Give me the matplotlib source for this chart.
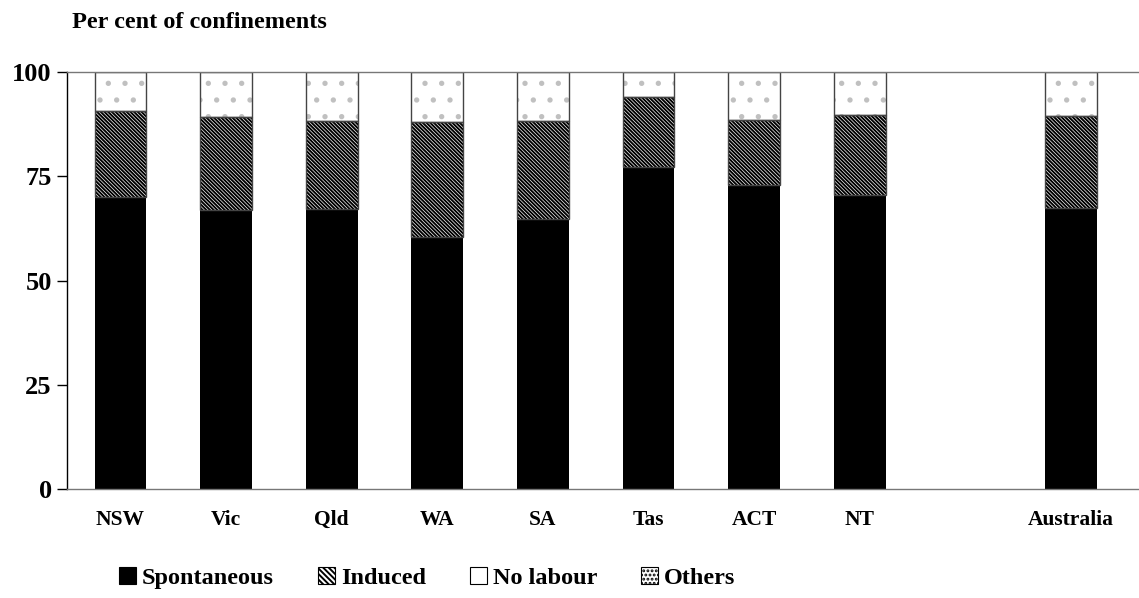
import matplotlib
matplotlib.use("Agg")
import matplotlib.pyplot as plt
from matplotlib.patches import Patch
import numpy as np

categories = ["NSW", "Vic", "Qld", "WA", "SA", "Tas", "ACT", "NT", "Australia"]
positions = [0, 1, 2, 3, 4, 5, 6, 7, 9]
spontaneous = [70.1, 66.8, 67.1, 60.4, 64.7, 77.2, 72.9, 70.4, 67.4]
induced = [20.5, 22.4, 21.1, 27.7, 23.5, 16.7, 15.5, 19.3, 22.0]
no_labour = [9.4, 10.8, 11.8, 11.9, 11.8, 6.1, 11.6, 10.3, 10.6]
others = [0.0, 0.0, 0.0, 0.0, 0.0, 0.0, 0.0, 0.0, 0.0]
yticks = [0, 25, 50, 75, 100]

plt.rcParams["font.family"] = ["Liberation Serif", "DejaVu Serif"]
plt.rcParams["font.weight"] = "bold"
plt.rcParams["hatch.linewidth"] = 1.4

fig = plt.figure(figsize=(11.39, 5.98), dpi=100)
ax = fig.add_axes([67 / 1139, 109 / 598, 1 - 67 / 1139, 417 / 598])

x = np.array(positions, dtype=float)
w = 0.49
sp = np.array(spontaneous)
ind = np.array(induced)
nl = np.array(no_labour)
ot = np.array(others)

ax.bar(x, sp, w, color="black", edgecolor="black", linewidth=0)
ax.bar(x, ind, w, bottom=sp, color="white", edgecolor="black", hatch="\\" * 9, linewidth=0)
ax.bar(x, nl, w, bottom=sp + ind, color="white", edgecolor="#c0c0c0", hatch=".", linewidth=0)
ax.bar(x, ot, w, bottom=sp + ind + nl, color="white", edgecolor="black", hatch="....", linewidth=0)
# segment outlines
ax.bar(x, ind, w, bottom=sp, fill=False, edgecolor="#444444", linewidth=1.0)
ax.bar(x, nl, w, bottom=sp + ind, fill=False, edgecolor="#444444", linewidth=1.0)

ax.set_xlim(-0.507, 9.645)
ax.set_ylim(0, 100)
ax.set_yticks(yticks)
ax.set_yticklabels([str(t) for t in yticks], fontsize=19, fontweight="bold")
ax.set_xticks(positions)
ax.set_xticklabels(categories, fontsize=15.5, fontweight="bold")
ax.tick_params(axis="x", length=0, pad=15)
ax.tick_params(axis="y", direction="out", length=7, width=1.0, pad=4)

ax.spines["left"].set_color("black")
ax.spines["left"].set_linewidth(1.0)
ax.spines["bottom"].set_color("#777777")
ax.spines["bottom"].set_linewidth(1.0)
ax.spines["top"].set_color("#777777")
ax.spines["top"].set_linewidth(1.0)
ax.spines["right"].set_visible(False)

fig.text(72 / 1139, 1 - 22 / 598, "Per cent of confinements", fontsize=17.5,
         fontweight="bold", va="center", ha="left")

handles = [
    Patch(facecolor="black", edgecolor="black", linewidth=0.8),
    Patch(facecolor="white", edgecolor="black", hatch="\\" * 6, linewidth=0.8),
    Patch(facecolor="white", edgecolor="black", linewidth=0.8),
    Patch(facecolor="white", edgecolor="black", hatch="....", linewidth=0.8),
]
labels = ["Spontaneous", "Induced", "No labour", "Others"]
fig.legend(handles, labels, loc="center", bbox_to_anchor=(427 / 1139, 1 - 578 / 598),
           ncol=4, frameon=False, handlelength=0.7, handleheight=0.7,
           handletextpad=0.25, columnspacing=1.8, prop={"weight": "bold", "size": 17.5})

fig.savefig("out.png", dpi=100)
